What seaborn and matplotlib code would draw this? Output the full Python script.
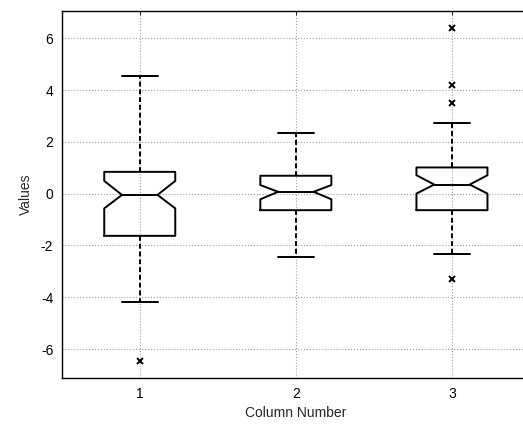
import matplotlib
matplotlib.use("Agg")
import matplotlib.pyplot as plt
import seaborn as sns

sns.set_style("white")
plt.rcParams['font.family'] = ['Liberation Sans', 'DejaVu Sans']

columns = [1, 2, 3]
q1 = [-1.63, -0.64, -0.64]
med = [-0.05, 0.07, 0.35]
q3 = [0.84, 0.69, 1.01]
whislo = [-4.17, -2.46, -2.33]
whishi = [4.55, 2.33, 2.73]
cilo = [-0.57, -0.22, 0.0]
cihi = [0.49, 0.33, 0.71]
fliers = [[-6.46], [], [6.4, 4.19, 3.5, -3.31]]
yticks = [-6, -4, -2, 0, 2, 4, 6]

stats = []
for i, c in enumerate(columns):
    stats.append(dict(label=str(c), med=med[i], q1=q1[i], q3=q3[i],
                      whislo=whislo[i], whishi=whishi[i],
                      cilo=cilo[i], cihi=cihi[i], fliers=fliers[i]))

fig = plt.figure(figsize=(5.23, 4.26), dpi=100)
ax = fig.add_axes([61.7/523, 47.7/426, (530-61.7)/523, (378.3-11)/426])

ax.grid(True, color='#a0a0a0', linestyle=':', linewidth=0.8)
ax.set_axisbelow(True)

ax.bxp(stats, positions=columns, widths=0.455, shownotches=True,
       boxprops=dict(color='black', linewidth=1.4),
       medianprops=dict(color='black', linewidth=1.4),
       whiskerprops=dict(color='black', linewidth=1.4, linestyle=(0, (2.5, 1.5))),
       capprops=dict(color='black', linewidth=1.4),
       flierprops=dict(marker='x', markeredgecolor='black', markersize=5,
                       markeredgewidth=1.4, linestyle='none'),
       manage_ticks=False)

ax.set_xlim(0.5, 3.5)
ax.set_ylim(-7.13, 7.05)
ax.set_xticks(columns)
ax.set_xticklabels([str(c) for c in columns])
ax.set_yticks(yticks)
ax.set_yticklabels([str(t) for t in yticks])
ax.tick_params(direction='in', length=3, width=0.6, top=True, right=True,
               labelsize=10, colors='black', pad=6)
for s in ax.spines.values():
    s.set_color('black')
    s.set_linewidth(1.0)
ax.set_xlabel('Column Number', fontsize=10, labelpad=4)
ax.set_ylabel('Values', fontsize=10, labelpad=6)

fig.savefig('out.png', dpi=100)
